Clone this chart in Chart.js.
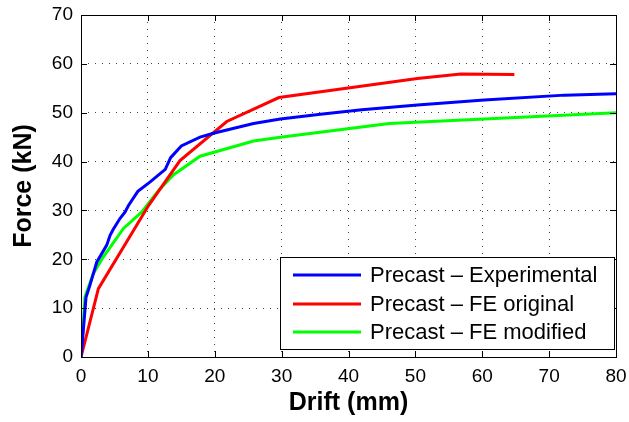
<!DOCTYPE html>
<html>
<head>
<meta charset="utf-8">
<script src="https://cdn.jsdelivr.net/npm/chart.js@4"></script>
<style>
  html, body { margin: 0; padding: 0; background: #fff; }
  #wrap { width: 629px; height: 422px; position: relative; }
</style>
</head>
<body>
<div id="wrap"><canvas id="chart"></canvas></div>
<script>
// values
const seriesNames = ['Precast \u2013 Experimental', 'Precast \u2013 FE original', 'Precast \u2013 FE modified'];
const seriesColors = ['#0000ff', '#ff0000', '#00ff00'];

const expDrift = [0, 0.35, 0.75, 1.25, 2.35, 3.85, 4.35, 4.85, 5.85, 6.6, 7.1, 8.5, 10.3, 12.6, 13.4, 15, 17.8, 19.8, 25.8, 29.8, 35.8, 42, 50.3, 60.3, 72.3, 80];
const expForce = [0, 5.5, 12.2, 14.3, 19.4, 22.9, 24.9, 26.2, 28.4, 29.7, 31, 33.9, 35.8, 38.4, 40.8, 43.2, 45, 45.8, 47.8, 48.7, 49.7, 50.6, 51.6, 52.6, 53.6, 53.9];

const origDrift = [0, 2.6, 10.1, 14.8, 21.8, 29.6, 50.3, 56.8, 64.8];
const origForce = [0, 14, 31, 40.2, 48.2, 53.1, 57, 57.9, 57.8];

const modDrift = [0, 0.6, 1.85, 3.35, 6.35, 9.1, 11.6, 13.85, 17.8, 25.8, 29.8, 46.1, 80];
const modForce = [0, 12.3, 17.1, 20.5, 26.3, 29.7, 34.1, 37.3, 41.1, 44.2, 45, 47.8, 50];

const FONT = '"Liberation Sans", Arial, Helvetica, sans-serif';

function pts(xs, ys) {
    return xs.map((x, i) => ({ x: x, y: ys[i] }));
}

// scale boxes get fixed sizes so the plot area lands where the reference has it
function fixBox(size, horizontal) {
    return s => {
        if (horizontal) s.height = size; else s.width = size;
        s.paddingTop = 0;
        s.paddingBottom = 0;
        s.paddingLeft = 0;
        s.paddingRight = 0;
    };
}

// frame, inward tick marks and the boxed legend inside the plot
const framePlugin = {
    id: 'frame',
    afterDraw(chart) {
        const ctx = chart.ctx;
        const a = chart.chartArea;
        const xs = chart.scales.x, ys = chart.scales.y;
        ctx.save();
        ctx.strokeStyle = '#000';
        ctx.lineWidth = 1;
        ctx.setLineDash([]);
        ctx.beginPath();
        xs.ticks.forEach(t => {
            const px = Math.round(xs.getPixelForValue(t.value)) + 0.5;
            ctx.moveTo(px, a.bottom); ctx.lineTo(px, a.bottom - 6);
            ctx.moveTo(px, a.top); ctx.lineTo(px, a.top + 6);
        });
        ys.ticks.forEach(t => {
            const py = Math.round(ys.getPixelForValue(t.value)) + 0.5;
            ctx.moveTo(a.left, py); ctx.lineTo(a.left + 6, py);
            ctx.moveTo(a.right, py); ctx.lineTo(a.right - 6, py);
        });
        ctx.stroke();
        ctx.strokeRect(Math.round(a.left) + 0.5, Math.round(a.top) + 0.5,
            Math.round(a.right - a.left), Math.round(a.bottom - a.top));

        // legend
        const lx = 280.5, ly = 257.5, lw = 334, lh = 92;
        ctx.fillStyle = '#fff';
        ctx.fillRect(lx, ly, lw, lh);
        ctx.strokeRect(lx, ly, lw, lh);
        const rows = [275, 304, 332];
        ctx.font = '22px ' + FONT;
        ctx.textBaseline = 'middle';
        ctx.textAlign = 'left';
        chart.data.datasets.forEach((ds, i) => {
            ctx.strokeStyle = ds.borderColor;
            ctx.lineWidth = 3;
            ctx.beginPath();
            ctx.moveTo(293, rows[i]);
            ctx.lineTo(361, rows[i]);
            ctx.stroke();
            ctx.fillStyle = '#000';
            ctx.fillText(ds.label, 370, rows[i] + 1);
        });
        ctx.restore();
    }
};

new Chart(document.getElementById('chart'), {
    type: 'line',
    data: {
        datasets: [
            { label: seriesNames[0], data: pts(expDrift, expForce), borderColor: seriesColors[0] },
            { label: seriesNames[1], data: pts(origDrift, origForce), borderColor: seriesColors[1] },
            { label: seriesNames[2], data: pts(modDrift, modForce), borderColor: seriesColors[2] }
        ]
    },
    options: {
        responsive: true,
        maintainAspectRatio: false,
        animation: false,
        layout: { padding: { top: 15, right: 13, left: 0, bottom: 0 } },
        elements: {
            point: { radius: 0 },
            line: { borderWidth: 3, tension: 0, fill: false }
        },
        plugins: {
            legend: { display: false },
            tooltip: { enabled: false }
        },
        scales: {
            x: {
                type: 'linear',
                min: 0,
                max: 80,
                afterFit: fixBox(65, true),
                ticks: { stepSize: 10, color: '#000', padding: 8, font: { family: FONT, size: 19 } },
                grid: { color: '#444', lineWidth: 1, drawTicks: false },
                border: { display: false, dash: [1, 6] },
                title: {
                    display: true,
                    text: 'Drift (mm)',
                    color: '#000',
                    padding: 4,
                    font: { family: FONT, size: 25, weight: 'bold' }
                }
            },
            y: {
                min: 0,
                max: 70,
                afterFit: fixBox(81, false),
                ticks: { stepSize: 10, color: '#000', padding: 8, font: { family: FONT, size: 19 } },
                grid: { color: '#444', lineWidth: 1, drawTicks: false },
                border: { display: false, dash: [1, 6] },
                title: {
                    display: true,
                    text: 'Force (kN)',
                    color: '#000',
                    padding: 9,
                    font: { family: FONT, size: 25, weight: 'bold' }
                }
            }
        }
    },
    plugins: [framePlugin]
});
</script>
</body>
</html>
